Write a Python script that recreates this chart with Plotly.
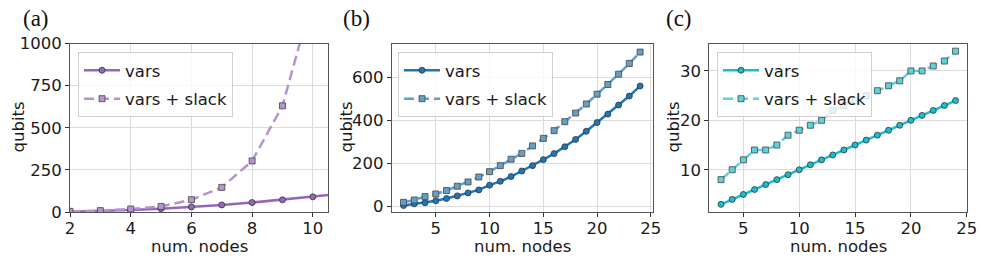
import plotly.graph_objects as go

# ---- data ----
a_nodes = [2, 3, 4, 5, 6, 7, 8, 9, 10, 11]
a_vars = [2, 6, 12, 20, 30, 42, 56, 72, 90, 110]
a_slack_nodes = [2, 3, 4, 5, 6, 7, 8, 9, 10]
a_slack = [4, 8, 18, 33, 73, 146, 303, 630, 1280]

b_nodes = list(range(2, 25))
b_vars = [3, 11, 16, 25, 36, 48, 62, 76, 98, 116, 138, 164, 189, 217, 245, 277,
          311, 349, 390, 429, 471, 513, 560]
b_slack = [18, 29, 45, 57, 73, 93, 113, 136, 161, 189, 219, 246, 281, 316, 352,
           394, 434, 476, 522, 567, 615, 665, 718]

c_nodes = list(range(3, 25))
c_vars = list(range(3, 25))
c_slack = [8, 10, 12, 14, 14, 15, 17, 18, 19, 20, 22, 23, 24, 25, 26, 27, 28,
           30, 30, 31, 32, 34]

panel_labels = ["(a)", "(b)", "(c)"]
xlabel = "num. nodes"
ylabel = "qubits"

W, H = 981, 259
FONT = "DejaVu Sans"
FS = 16.5

def px(x):
    return x / W

def py(y):
    return 1 - y / H

fig = go.Figure()

panels = [
    dict(xv=a_nodes, yv=a_vars, xs=a_slack_nodes, ys=a_slack,
         c1="#9467bd", c2="#b495d1", xd=(70, 328), xr=[2, 10.5], yr=[0, 1000],
         xt=[2, 4, 6, 8, 10], yt=[0, 250, 500, 750, 1000], leg=(78, 52),
         lab=(36, 19), ylab=18),
    dict(xv=b_nodes, yv=b_vars, xs=b_nodes, ys=b_slack,
         c1="#1f77b4", c2="#62a0ca", xd=(391.7, 653), xr=[0.9, 25.2], yr=[-27, 758],
         xt=[5, 10, 15, 20, 25], yt=[0, 200, 400, 600], leg=(398, 52),
         lab=(356, 19), ylab=346),
    dict(xv=c_nodes, yv=c_vars, xs=c_nodes, ys=c_slack,
         c1="#17becf", c2="#5dd1dd", xd=(709.3, 967.3), xr=[1.95, 25.05], yr=[1.45, 35.55],
         xt=[5, 10, 15, 20, 25], yt=[10, 20, 30], leg=(717, 52),
         lab=(679, 19), ylab=673),
]

ydom = [py(212), py(43.5)]
annotations = []
for i, p in enumerate(panels):
    k = "" if i == 0 else str(i + 1)
    legname = "legend" + k
    fig.add_trace(go.Scatter(
        x=p["xv"], y=p["yv"], mode="lines+markers", name="vars",
        line=dict(color=p["c1"], width=2.5),
        marker=dict(symbol="circle", size=6, color=p["c1"],
                    line=dict(color="#333333", width=0.8)),
        xaxis="x" + k, yaxis="y" + k, legend=legname, legendgroup="v" + k,
        cliponaxis=True))
    fig.add_trace(go.Scatter(
        x=p["xs"], y=p["ys"], mode="lines+markers", name="vars + slack",
        line=dict(color=p["c2"], width=2.5, dash="10px,5px"),
        marker=dict(symbol="square", size=6, color=p["c2"],
                    line=dict(color="#444444", width=0.8)),
        xaxis="x" + k, yaxis="y" + k, legend=legname, legendgroup="s" + k,
        cliponaxis=True))

    axcommon = dict(showgrid=True, gridcolor="#dcdcdc", gridwidth=1,
                    showline=True, linecolor="#555555", linewidth=1, mirror=True,
                    ticks="outside", ticklen=4, tickcolor="#333333",
                    tickfont=dict(family=FONT, size=FS, color="#1a1a1a"),
                    zeroline=False, automargin=False)
    fig.update_layout(**{
        "xaxis" + k: dict(domain=[px(p["xd"][0]), px(p["xd"][1])], range=p["xr"],
                          tickvals=p["xt"], anchor="y" + k, ticklabelstandoff=-3,
                          **axcommon),
        "yaxis" + k: dict(domain=ydom, range=p["yr"], tickvals=p["yt"],
                          anchor="x" + k, **axcommon),
        legname: dict(x=px(p["leg"][0]), y=py(p["leg"][1]), xanchor="left",
                      yanchor="top", bgcolor="rgba(255,255,255,0.8)",
                      bordercolor="#d0d0d0", borderwidth=1,
                      font=dict(family=FONT, size=FS, color="#1a1a1a"),
                      itemwidth=36, tracegroupgap=4),
    })
    annotations.append(dict(text=panel_labels[i], x=px(p["lab"][0]), y=py(p["lab"][1]),
                            xref="paper", yref="paper", showarrow=False,
                            xanchor="center", yanchor="middle",
                            font=dict(family="Liberation Serif", size=23, color="#111111")))
    xc = (p["xd"][0] + p["xd"][1]) / 2
    annotations.append(dict(text=xlabel, x=px(xc), y=py(246.5), xref="paper", yref="paper",
                            showarrow=False, xanchor="center", yanchor="middle",
                            font=dict(family=FONT, size=FS, color="#1a1a1a")))
    annotations.append(dict(text=ylabel, x=px(p["ylab"]), y=py(127.5), xref="paper",
                            yref="paper", showarrow=False, textangle=-90,
                            xanchor="center", yanchor="middle",
                            font=dict(family=FONT, size=FS, color="#1a1a1a")))

fig.update_layout(width=W, height=H, margin=dict(l=0, r=0, t=0, b=0),
                  plot_bgcolor="white", paper_bgcolor="white",
                  annotations=annotations, showlegend=True)

fig.write_html("out.html", config={"displayModeBar": False},
               post_script="document.body.style.margin='0';")
